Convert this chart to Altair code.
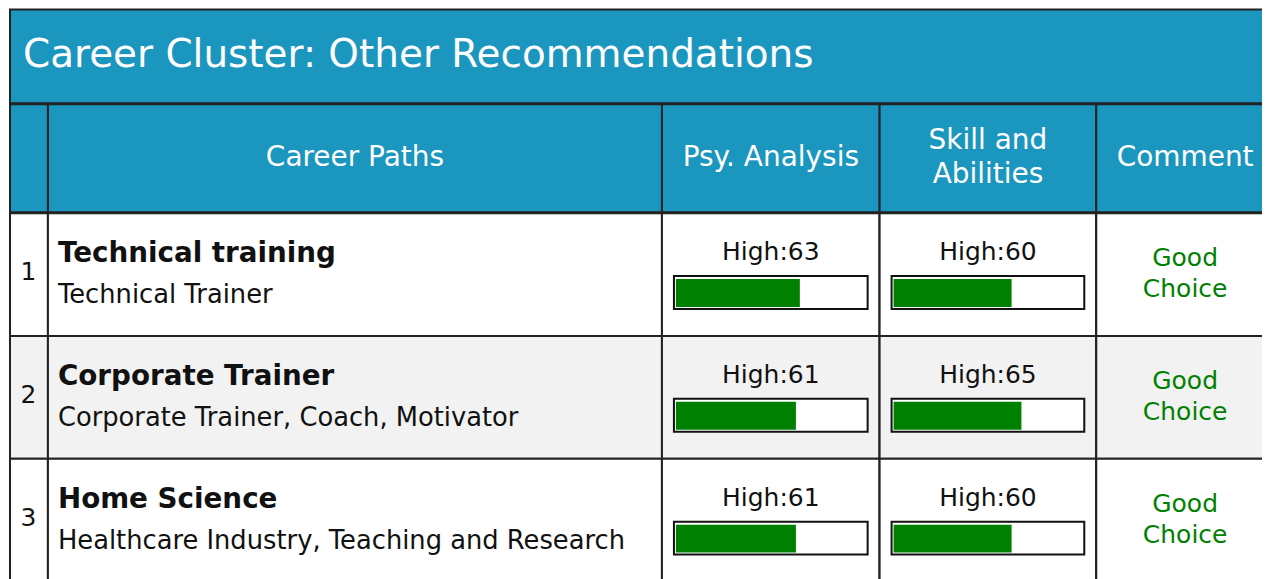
import altair as alt
import pandas as pd

# ---- data ----
chart_title = "Career Cluster: Other Recommendations"
headers = ["", "Career Paths", "Psy. Analysis", "Skill and\nAbilities", "Comment"]
rank = [1, 2, 3]
titles = ["Technical training", "Corporate Trainer", "Home Science"]
subtitles = [
    "Technical Trainer",
    "Corporate Trainer, Coach, Motivator",
    "Healthcare Industry, Teaching and Research",
]
psy_level = ["High", "High", "High"]
psy_score = [63, 61, 61]
skill_level = ["High", "High", "High"]
skill_score = [60, 65, 60]
comments = ["Good Choice", "Good Choice", "Good Choice"]

# ---- style ----
BLUE = "#1b96be"
LINE = "#222222"
GREEN = "#008000"
INK = "#111111"
FONT = "DejaVu Sans"
col_widths = [38, 615, 218, 217, 178]
ROW_H = 123

df = pd.DataFrame({
    "row": [str(r) for r in rank],
    "title": titles,
    "sub": subtitles,
    "psy": psy_score,
    "psy_label": [f"{l}:{s}" for l, s in zip(psy_level, psy_score)],
    "skill": skill_score,
    "skill_label": [f"{l}:{s}" for l, s in zip(skill_level, skill_score)],
    "comment": comments,
    "bg": ["#ffffff" if i % 2 == 0 else "#f2f2f2" for i in range(len(rank))],
})

yenc = alt.Y("row:N", axis=None, sort=None,
             scale=alt.Scale(paddingInner=0, paddingOuter=0))


def body_base(w):
    base = alt.Chart(df)
    bg = base.mark_rect(stroke=LINE, strokeWidth=2).encode(
        y=yenc, x=alt.value(0), x2=alt.value(w),
        fill=alt.Fill("bg:N", scale=None),
    )
    return base, bg


# title band
title_chart = alt.Chart(pd.DataFrame({"t": [chart_title]})).mark_text(
    align="left", baseline="alphabetic", font=FONT, fontSize=39, color="white"
).encode(x=alt.value(13), y=alt.value(58), text="t:N").properties(
    width=sum(col_widths), height=94,
    view=alt.ViewBackground(fill=BLUE, stroke=LINE, strokeWidth=2),
)

# header row
header_cells = []
for h, w in zip(headers, col_widths):
    n_lines = len(h.split("\n"))
    c = alt.Chart(pd.DataFrame({"h": [h]})).mark_text(
        align="center", baseline="alphabetic", font=FONT, fontSize=28,
        color="white", lineBreak="\n", lineHeight=34,
    ).encode(x=alt.value(w / 2), y=alt.value(62 - (n_lines - 1) * 17),
             text="h:N").properties(
        width=w, height=108,
        view=alt.ViewBackground(fill=BLUE, stroke=LINE, strokeWidth=2),
    )
    header_cells.append(c)
header_row = alt.hconcat(*header_cells, spacing=0, bounds="flush")

# body columns
w = col_widths[0]
base, bg = body_base(w)
num_col = alt.layer(
    bg,
    base.mark_text(font=FONT, fontSize=25, color=INK, baseline="middle",
                   dy=-2.5).encode(
        y=yenc, x=alt.value(w / 2 - 0.5), text="row:N"),
).properties(width=w, height=alt.Step(ROW_H))

w = col_widths[1]
base, bg = body_base(w)
path_col = alt.layer(
    bg,
    base.mark_text(font=FONT, fontSize=27.8, fontWeight="bold", color=INK,
                   align="left", baseline="alphabetic", dy=-12.5).encode(
        y=yenc, x=alt.value(10), text="title:N"),
    base.mark_text(font=FONT, fontSize=25.8, color=INK,
                   align="left", baseline="alphabetic", dy=29).encode(
        y=yenc, x=alt.value(10), text="sub:N"),
).properties(width=w, height=alt.Step(ROW_H))


def bar_col(w, field, label):
    base, bg = body_base(w)
    return alt.layer(
        bg,
        base.mark_text(font=FONT, fontSize=25, color=INK, baseline="alphabetic",
                       dy=-14.5).encode(y=yenc, x=alt.value(w / 2), text=f"{label}:N"),
        base.mark_bar(height=33, yOffset=18, fill="white", stroke=INK,
                      strokeWidth=2).encode(y=yenc, x=alt.value(12), x2=alt.value(w - 12)),
        base.mark_bar(height=28, yOffset=18.5, color=GREEN).encode(
            y=yenc,
            x=alt.X(f"{field}:Q", axis=None,
                    scale=alt.Scale(domain=[0, 100], range=[14, 211])),
        ),
    ).properties(width=w, height=alt.Step(ROW_H))


psy_col = bar_col(col_widths[2], "psy", "psy_label")
skill_col = bar_col(col_widths[3], "skill", "skill_label")

w = col_widths[4]
base, bg = body_base(w)
comment_col = alt.layer(
    bg,
    base.mark_text(font=FONT, fontSize=25, color=GREEN, baseline="alphabetic",
                   lineBreak=" ", lineHeight=31, dy=-8.5).encode(
        y=yenc, x=alt.value(w / 2), text="comment:N"),
).properties(width=w, height=alt.Step(ROW_H))

body_row = alt.hconcat(num_col, path_col, psy_col, skill_col, comment_col,
                       spacing=0, bounds="flush").resolve_scale(x="independent")

chart = alt.vconcat(title_chart, header_row, body_row, spacing=-2).properties(
    padding={"left": 0, "top": 0, "right": -14, "bottom": 0},
    background="white",
).configure_view(stroke=LINE, strokeWidth=2)

chart.save("out.html", embed_options={"renderer": "svg", "actions": False})
